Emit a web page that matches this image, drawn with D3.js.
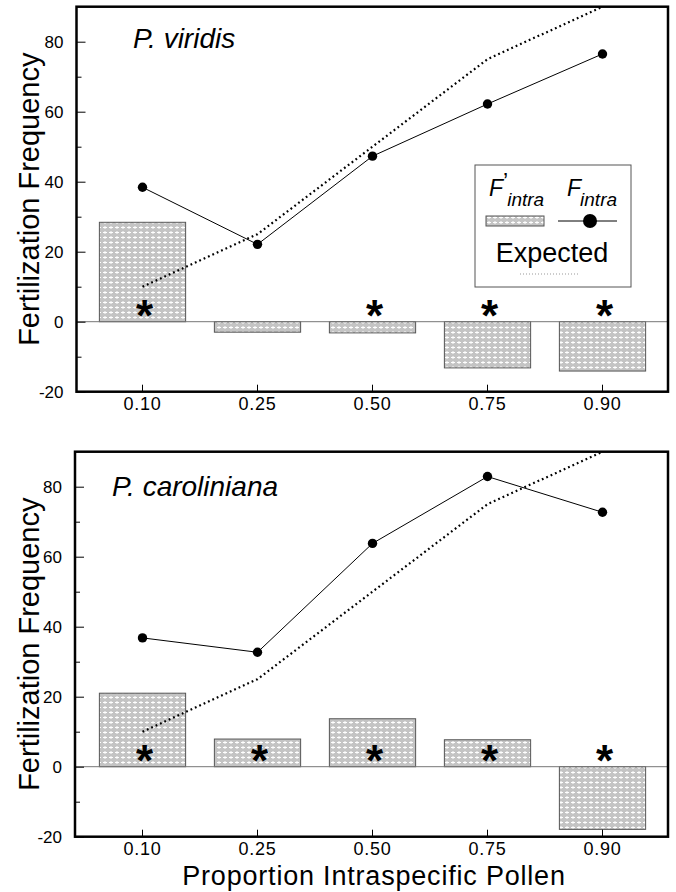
<!DOCTYPE html>
<html>
<head>
<meta charset="utf-8">
<script src="https://cdn.jsdelivr.net/npm/d3@7"></script>
<style>
  body { margin: 0; background: #fff; }
  svg { display: block; font-family: "Liberation Sans", Arial, sans-serif; }
</style>
</head>
<body>
<svg width="676" height="892"></svg>
<script>
var width = 676;
var height = 892;

// data
var categories = ["0.10", "0.25", "0.50", "0.75", "0.90"];
var expected = [10, 25, 50, 75, 90];
var viridisFprime = [28.4, -3.0, -3.2, -13.2, -14.1];
var viridisF = [38.4, 22.1, 47.3, 62.2, 76.5];
var viridisStar = ["0.10", "0.50", "0.75", "0.90"];
var carolFprime = [21.0, 7.9, 13.7, 7.7, -17.9];
var carolF = [36.8, 32.7, 63.8, 82.9, 72.7];
var carolStar = ["0.10", "0.25", "0.50", "0.75", "0.90"];
var yTicks = [-20, 0, 20, 40, 60, 80];
var yMinor = [-10, 10, 30, 50, 70];

var panels = [
  { name: "P. viridis", fprime: viridisFprime, f: viridisF, star: viridisStar,
    left: 76.5, right: 668, top: 6.7, bottom: 391.7, titleX: 133, titleY: 48, legend: true },
  { name: "P. caroliniana", fprime: carolFprime, f: carolF, star: carolStar,
    left: 75, right: 668, top: 451.7, bottom: 836.7, titleX: 112, titleY: 496, legend: false }
];

var svg = d3.select("svg");

// halftone fill for the bars
var defs = svg.append("defs");
var pat = defs.append("pattern")
    .attr("id", "dots")
    .attr("patternUnits", "userSpaceOnUse")
    .attr("width", 6)
    .attr("height", 5);
pat.append("rect").attr("width", 6).attr("height", 5).attr("fill", "#c4c4c4");
pat.append("rect").attr("x", 1).attr("y", 2).attr("width", 4).attr("height", 1).attr("fill", "#fff");
pat.append("rect").attr("x", 2.5).attr("y", 1).attr("width", 1).attr("height", 3).attr("fill", "#fff");

var x = d3.scaleBand()
    .domain(categories)
    .range([85, 660])
    .paddingInner(0.25)
    .paddingOuter(0.125);

var cx = c => x(c) + x.bandwidth() / 2;

panels.forEach(function(p, pi) {
  var y = d3.scaleLinear()
      .domain([-20, 90])
      .range([p.bottom, p.top]);

  var clipId = "clip" + pi;
  defs.append("clipPath").attr("id", clipId)
    .append("rect")
      .attr("x", p.left)
      .attr("y", p.top)
      .attr("width", p.right - p.left)
      .attr("height", p.bottom - p.top);

  var g = svg.append("g");

  // bars
  g.selectAll("rect.bar")
    .data(p.fprime)
    .enter()
    .append("rect")
      .attr("class", "bar")
      .attr("x", (d, i) => x(categories[i]))
      .attr("y", d => y(Math.max(d, 0)))
      .attr("width", x.bandwidth())
      .attr("height", d => Math.abs(y(d) - y(0)))
      .attr("fill", "url(#dots)")
      .attr("stroke", "#555")
      .attr("stroke-width", 1);

  // zero line
  g.append("line")
      .attr("x1", p.left)
      .attr("x2", p.right)
      .attr("y1", y(0))
      .attr("y2", y(0))
      .attr("stroke", "#777")
      .attr("stroke-width", 1);

  var line = d3.line()
      .x((d, i) => cx(categories[i]))
      .y(d => y(d));

  // expected
  g.append("path")
      .datum(expected)
      .attr("clip-path", "url(#" + clipId + ")")
      .attr("d", line)
      .attr("fill", "none")
      .attr("stroke", "#000")
      .attr("stroke-width", 2.2)
      .attr("stroke-dasharray", "1.8,3");

  // F intra
  g.append("path")
      .datum(p.f)
      .attr("d", line)
      .attr("fill", "none")
      .attr("stroke", "#000")
      .attr("stroke-width", 1);

  g.selectAll("circle.pt")
    .data(p.f)
    .enter()
    .append("circle")
      .attr("class", "pt")
      .attr("cx", (d, i) => cx(categories[i]))
      .attr("cy", d => y(d))
      .attr("r", 4.7)
      .attr("fill", "#000");

  // significance asterisks
  g.selectAll("text.star")
    .data(p.star)
    .enter()
    .append("text")
      .attr("class", "star")
      .attr("x", d => cx(d) + 2)
      .attr("y", y(0) + 9)
      .attr("text-anchor", "middle")
      .attr("font-size", 44)
      .attr("font-weight", "bold")
      .text("*");

  // panel title
  g.append("text")
      .attr("x", p.titleX)
      .attr("y", p.titleY)
      .attr("font-size", 28)
      .attr("font-style", "italic")
      .text(p.name);

  // y axis (ticks inside)
  var yAxis = g.append("g")
      .attr("transform", "translate(" + p.left + ",0)")
      .call(d3.axisLeft(y).tickValues(yTicks).tickSize(-9).tickPadding(13)
            .tickFormat(d => String(d)));
  yAxis.select(".domain").remove();
  yAxis.selectAll("text").attr("font-size", 17).attr("font-family", null).attr("fill", "#000");
  yAxis.selectAll("line").attr("stroke-width", 1);

  var yMin = g.append("g")
      .attr("transform", "translate(" + p.left + ",0)")
      .call(d3.axisLeft(y).tickValues(yMinor).tickSize(-5).tickFormat(""));
  yMin.select(".domain").remove();

  // x axis
  var xAxis = g.append("g")
      .attr("transform", "translate(0," + p.bottom + ")")
      .call(d3.axisBottom(x).tickSize(-7).tickPadding(6));
  xAxis.select(".domain").remove();
  xAxis.selectAll("text")
      .attr("font-size", 18)
      .attr("font-family", null)
      .attr("letter-spacing", "0.8px")
      .attr("fill", "#000");

  // frame
  g.append("rect")
      .attr("x", p.left)
      .attr("y", p.top)
      .attr("width", p.right - p.left)
      .attr("height", p.bottom - p.top)
      .attr("fill", "none")
      .attr("stroke", "#000")
      .attr("stroke-width", 2.5);

  // y title
  g.append("text")
      .attr("transform", "rotate(-90)")
      .attr("x", -(p.top + p.bottom) / 2)
      .attr("y", 39)
      .attr("text-anchor", "middle")
      .attr("font-size", 29)
      .text("Fertilization Frequency");

  if (p.legend) {
    var lg = g.append("g");
    lg.append("rect")
        .attr("x", 475).attr("y", 165)
        .attr("width", 156).attr("height", 122)
        .attr("fill", "#fff")
        .attr("stroke", "#555")
        .attr("stroke-width", 1);

    // F'intra
    var t1 = lg.append("text").attr("font-style", "italic").attr("font-size", 23);
    t1.append("tspan").attr("x", 489).attr("y", 196).text("F");
    t1.append("tspan").attr("dx", 0).attr("y", 190).attr("font-style", "normal").text("’");
    t1.append("tspan").attr("dx", -1).attr("y", 206).attr("font-size", 19).text("intra");

    // Fintra
    var t2 = lg.append("text").attr("font-style", "italic").attr("font-size", 23);
    t2.append("tspan").attr("x", 567).attr("y", 196).text("F");
    t2.append("tspan").attr("dx", -1).attr("y", 206).attr("font-size", 19).text("intra");

    lg.append("rect")
        .attr("x", 486).attr("y", 216)
        .attr("width", 58).attr("height", 10)
        .attr("fill", "url(#dots)")
        .attr("stroke", "#555")
        .attr("stroke-width", 1);

    lg.append("line")
        .attr("x1", 558).attr("x2", 617)
        .attr("y1", 221).attr("y2", 221)
        .attr("stroke", "#000").attr("stroke-width", 1);
    lg.append("circle")
        .attr("cx", 590).attr("cy", 221).attr("r", 7)
        .attr("fill", "#000");

    lg.append("text")
        .attr("x", 552).attr("y", 262)
        .attr("text-anchor", "middle")
        .attr("font-size", 27)
        .text("Expected");
    lg.append("line")
        .attr("x1", 520).attr("x2", 580)
        .attr("y1", 274).attr("y2", 274)
        .attr("stroke", "#999").attr("stroke-width", 1)
        .attr("stroke-dasharray", "1,2");
  }
});

// x title
svg.append("text")
    .attr("x", 374)
    .attr("y", 885)
    .attr("text-anchor", "middle")
    .attr("font-size", 27)
    .attr("letter-spacing", "0.8px")
    .text("Proportion Intraspecific Pollen");
</script>
</body>
</html>
